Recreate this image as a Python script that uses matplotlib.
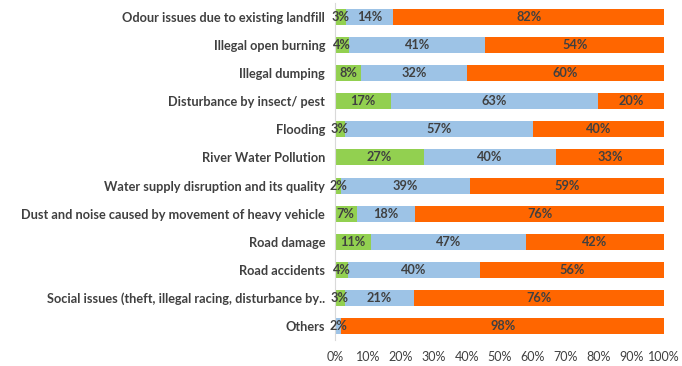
import matplotlib
matplotlib.use("Agg")
import matplotlib.pyplot as plt
import numpy as np

categories = [
    "Odour issues due to existing landfill",
    "Illegal open burning",
    "Illegal dumping",
    "Disturbance by insect/ pest",
    "Flooding",
    "River Water Pollution",
    "Water supply disruption and its quality",
    "Dust and noise caused by movement of heavy vehicle",
    "Road damage",
    "Road accidents",
    "Social issues (theft, illegal racing, disturbance by..",
    "Others",
]
green = [3.4, 4.4, 8, 17, 3, 27, 2, 6.6, 11, 4, 3, 0]
blue = [14.3, 41.2, 32, 63, 57, 40, 39, 17.7, 47, 40, 21, 2]
orange = [82.3, 54.4, 60, 20, 40, 33, 59, 75.7, 42, 56, 76, 98]
xticks = [0, 10, 20, 30, 40, 50, 60, 70, 80, 90, 100]

plt.rcParams['font.family'] = ['Lato', 'DejaVu Sans']
txt = '#404040'

fig = plt.figure(figsize=(6.82, 3.66), dpi=100)
ax = fig.add_axes([0.491, 0.071, 0.483, 0.921])

y = np.arange(len(categories))
h = 0.57
series = [(green, '#92D050'), (blue, '#9DC3E6'), (orange, '#FF6600')]
left = np.zeros(len(categories))
for vals, col in series:
    vals = np.array(vals, dtype=float)
    ax.barh(y, vals, left=left, height=h, color=col)
    for yi, (l, v) in enumerate(zip(left, vals)):
        if v > 0:
            ax.text(l + v / 2, yi, f"{int(round(v))}%", ha='center', va='center',
                    fontsize=9.2, fontweight='bold', color=txt)
    left += vals

ax.set_ylim(len(categories) - 0.5, -0.5)
ax.set_xlim(0, 100)
ax.set_yticks(y)
ax.set_yticklabels(categories, fontsize=9.2, fontweight='bold', color=txt)
ax.set_xticks(xticks)
ax.set_xticklabels([f"{t}%" for t in xticks], fontsize=9, color=txt)
ax.tick_params(axis='both', length=0)
ax.tick_params(axis='y', pad=7)
ax.tick_params(axis='x', pad=8)
for s in ['top', 'right', 'bottom']:
    ax.spines[s].set_visible(False)
ax.spines['left'].set_color('#d9d9d9')

fig.savefig('out.png', dpi=100)
